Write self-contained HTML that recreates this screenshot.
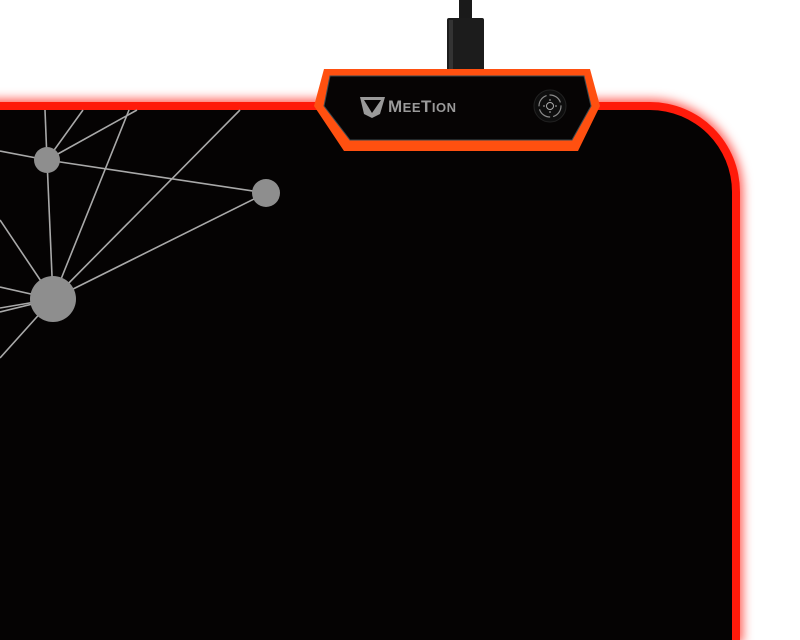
<!DOCTYPE html>
<html style="overflow:hidden;width:800px;height:640px"><head><style>
body{margin:0;width:800px;height:640px;background:#fff;overflow:hidden;position:relative;font-family:"Liberation Sans",sans-serif}
.pad{position:absolute;left:-100px;top:102px;width:840px;height:538px;background:#050303;border:8px solid #ff1a0a;border-bottom:none;border-radius:0 90px 0 0;box-shadow:0 0 10px 3px rgba(255,30,20,.7);box-sizing:border-box}
</style></head><body>
<div class="pad"></div>
<svg width="800" height="640" style="position:absolute;left:0;top:0">
<g stroke="#a9a9a9" stroke-width="1.6" fill="none">
<line x1="47" y1="160" x2="45" y2="110"/>
<line x1="47" y1="160" x2="83" y2="110"/>
<line x1="47" y1="160" x2="137" y2="110"/>
<line x1="47" y1="160" x2="0" y2="151"/>
<line x1="47" y1="160" x2="266" y2="193"/>
<line x1="53" y1="299" x2="47" y2="160"/>
<line x1="53" y1="299" x2="129" y2="110"/>
<line x1="53" y1="299" x2="240" y2="110"/>
<line x1="53" y1="299" x2="266" y2="193"/>
<line x1="53" y1="299" x2="0" y2="220"/>
<line x1="53" y1="299" x2="0" y2="287"/>
<line x1="53" y1="299" x2="0" y2="308"/>
<line x1="53" y1="299" x2="0" y2="312"/>
<line x1="53" y1="299" x2="0" y2="358"/>
</g>
<g fill="#8e8e8e">
<circle cx="47" cy="160" r="13"/><circle cx="266" cy="193" r="14"/><circle cx="53" cy="299" r="23"/>
</g>
<rect x="459" y="0" width="13" height="20" fill="#1a1a1a"/>
<rect x="447" y="18" width="37" height="54" rx="2" fill="#1c1c1c"/>
<rect x="449" y="20" width="4" height="50" fill="#333"/>
<polygon points="324,69 590,69 600,106 578,151 344,151 314,106" fill="#ff5010"/>
<polygon points="330,76 584,76 591,106 572,140 350,140 324,106" fill="#060404" stroke="#3a4a50" stroke-width="1"/>
<g fill="#9a9a9a">
<polygon points="360,97 385,97 380,114 372,118 364,114"/>
<polygon points="364,100 381,100 372,113" fill="#060404"/>
</g>
<text x="388" y="112" font-size="17" font-weight="bold" fill="#9a9a9a" letter-spacing="0.5">M<tspan font-size="13">EE</tspan>T<tspan font-size="13">ION</tspan></text>
<circle cx="550" cy="106" r="16" fill="#0e0e0e" stroke="#222" />
<circle cx="550" cy="106" r="11" fill="none" stroke="#8a8a8a" stroke-width="1.2" stroke-dasharray="14 3"/>
<circle cx="550" cy="106" r="3.5" fill="none" stroke="#aaa" stroke-width="1"/>
<g stroke="#aaa" stroke-width="1"><line x1="550" y1="99" x2="550" y2="101"/><line x1="550" y1="111" x2="550" y2="113"/><line x1="543" y1="106" x2="545" y2="106"/><line x1="555" y1="106" x2="557" y2="106"/></g>
</svg>
</body></html>
